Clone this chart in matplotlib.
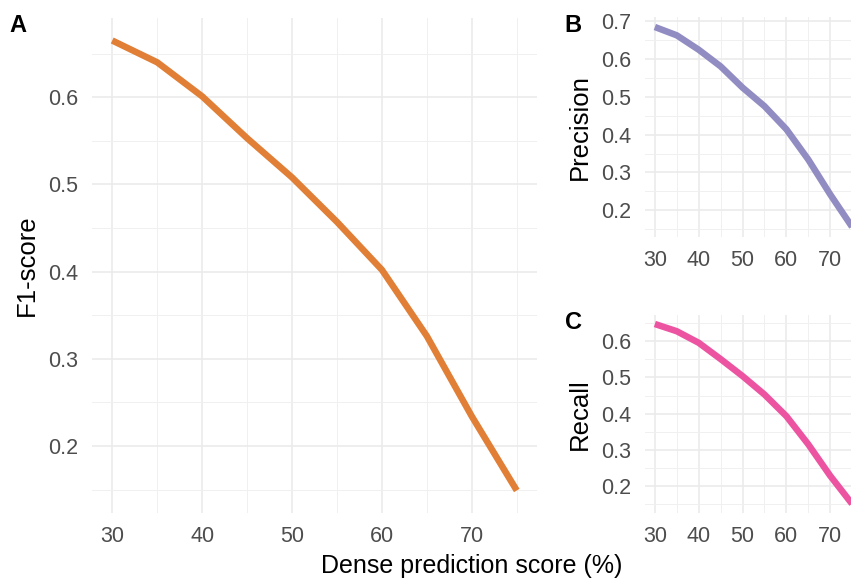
import matplotlib
matplotlib.use("Agg")
import matplotlib.pyplot as plt
from matplotlib.ticker import MultipleLocator

plt.rcParams['font.family'] = ['Liberation Sans', 'DejaVu Sans']

# Dense prediction score thresholds (%)
threshold = [30, 35, 40, 45, 50, 55, 60, 65, 70, 75]

f1_score = [0.665, 0.640, 0.601, 0.553, 0.508, 0.457, 0.402, 0.326, 0.234, 0.149]
precision = [0.684, 0.662, 0.624, 0.580, 0.524, 0.475, 0.414, 0.334, 0.242, 0.156]
recall = [0.648, 0.628, 0.596, 0.551, 0.504, 0.453, 0.393, 0.315, 0.228, 0.150]

# Dark2 colours with alpha 0.8 on white
c_f1 = '#E07F35'
c_prec = '#918CC2'
c_rec = '#EC54A1'

W, H = 851, 580
fig = plt.figure(figsize=(W / 100, H / 100), dpi=100)


def px_axes(left, top, right, bottom):
    return fig.add_axes([left / W, 1 - bottom / H, (right - left) / W, (bottom - top) / H])


def style(ax, x, y, ymajor):
    xmin, xmax = min(x), max(x)
    ymin, ymax = min(y), max(y)
    dx = (xmax - xmin) * 0.05
    dy = (ymax - ymin) * 0.05
    ax.set_xlim(xmin - dx, xmax + dx)
    ax.set_ylim(ymin - dy, ymax + dy)
    ax.xaxis.set_major_locator(MultipleLocator(10))
    ax.xaxis.set_minor_locator(MultipleLocator(5))
    ax.yaxis.set_major_locator(MultipleLocator(ymajor))
    ax.yaxis.set_minor_locator(MultipleLocator(ymajor / 2))
    ax.grid(True, which='major', color='#EBEBEB', lw=1.2)
    ax.grid(True, which='minor', color='#F0F0F0', lw=0.7)
    ax.set_axisbelow(True)
    for s in ax.spines.values():
        s.set_visible(False)
    ax.tick_params(which='both', length=0, labelsize=15.5, labelcolor='#4D4D4D')
    ax.tick_params(axis='y', pad=10)
    ax.tick_params(axis='x', pad=9)
    ax.yaxis.set_major_formatter(matplotlib.ticker.FormatStrFormatter('%.1f'))


axA = px_axes(92, 18, 537, 513)
axA.plot(threshold, f1_score, color=c_f1, lw=4.7, solid_capstyle='butt')
style(axA, threshold, f1_score, 0.1)

axB = px_axes(645, 17, 862, 237)
axB.plot(threshold, precision, color=c_prec, lw=4.7, solid_capstyle='butt')
style(axB, threshold, precision, 0.1)

axC = px_axes(645, 315, 862, 513)
axC.plot(threshold, recall, color=c_rec, lw=4.7, solid_capstyle='butt')
style(axC, threshold, recall, 0.1)

# axis titles
fig.text(27 / W, 1 - 265 / H, 'F1-score', rotation=90, ha='center', va='center', fontsize=18.5)
fig.text(580 / W, 1 - 127 / H, 'Precision', rotation=90, ha='center', va='center', fontsize=18.5)
fig.text(580 / W, 1 - 414 / H, 'Recall', rotation=90, ha='center', va='center', fontsize=18.5)
fig.text(472 / W, 1 - 566 / H, 'Dense prediction score (%)', ha='center', va='center', fontsize=18)

# panel tags
fig.text(18 / W, 1 - 26 / H, 'A', ha='center', va='center', fontsize=17, fontweight='bold')
fig.text(573 / W, 1 - 26 / H, 'B', ha='center', va='center', fontsize=17, fontweight='bold')
fig.text(573 / W, 1 - 323 / H, 'C', ha='center', va='center', fontsize=17, fontweight='bold')

fig.savefig('out.png', dpi=100)
